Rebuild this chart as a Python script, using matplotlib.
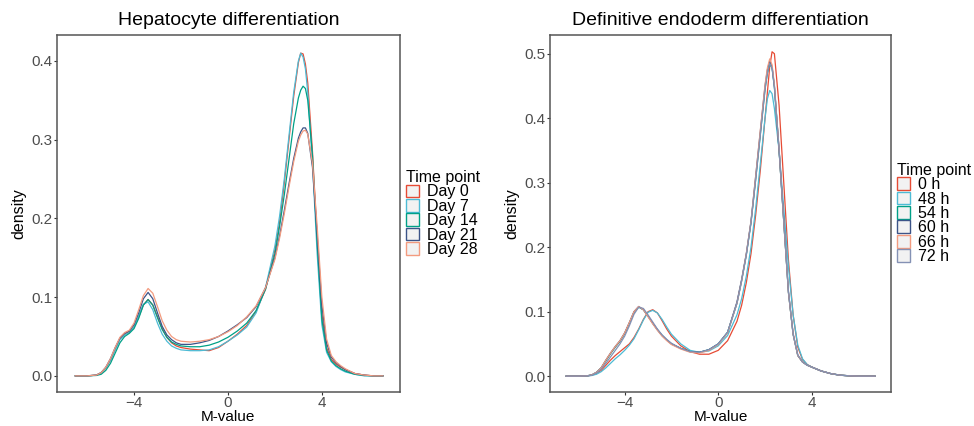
import numpy as np
import matplotlib.pyplot as plt
from matplotlib.patches import Patch

plt.rcParams['font.family'] = ['Liberation Sans', 'DejaVu Sans']

# ---- left panel: hepatocyte differentiation ----
x_hep = [-6.5, -6.0, -5.6, -5.4, -5.2, -5.0, -4.8, -4.6, -4.4, -4.2, -4.0, -3.8, -3.6,
         -3.4, -3.2, -3.0, -2.8, -2.6, -2.4, -2.2, -2.0, -1.6, -1.2, -0.8, -0.4, 0.0,
         0.4, 0.8, 1.2, 1.6, 2.0, 2.2, 2.4, 2.6, 2.8, 3.0, 3.1, 3.2, 3.3, 3.4, 3.6, 3.8,
         4.0, 4.2, 4.4, 4.6, 4.8, 5.0, 5.4, 5.8, 6.2, 6.6]
day0 = [0, 0, 0.001, 0.004, 0.01, 0.02, 0.034, 0.047, 0.053, 0.056, 0.062, 0.075, 0.09,
        0.097, 0.09, 0.075, 0.06, 0.049, 0.042, 0.038, 0.036, 0.034, 0.033, 0.032, 0.036, 0.044,
        0.053, 0.064, 0.082, 0.11, 0.16, 0.195, 0.245, 0.3, 0.355, 0.398, 0.41, 0.409, 0.396, 0.372, 0.285, 0.175,
        0.078, 0.036, 0.021, 0.015, 0.011, 0.008, 0.003, 0.001, 0, 0]
day7 = [0, 0, 0.001, 0.004, 0.01, 0.02, 0.033, 0.046, 0.052, 0.055, 0.062, 0.076, 0.091,
        0.094, 0.084, 0.067, 0.053, 0.044, 0.038, 0.035, 0.033, 0.032, 0.032, 0.033, 0.037, 0.044,
        0.052, 0.062, 0.08, 0.112, 0.165, 0.203, 0.25, 0.305, 0.36, 0.4, 0.41, 0.405, 0.39, 0.36, 0.27, 0.155,
        0.065, 0.03, 0.018, 0.012, 0.008, 0.005, 0.002, 0, 0, 0]
day14 = [0, 0, 0.0005, 0.002, 0.007, 0.016, 0.029, 0.042, 0.05, 0.054, 0.06, 0.073, 0.09,
         0.097, 0.09, 0.074, 0.059, 0.049, 0.043, 0.04, 0.038, 0.037, 0.037, 0.039, 0.043, 0.049,
         0.057, 0.067, 0.083, 0.11, 0.155, 0.19, 0.23, 0.275, 0.32, 0.353, 0.363, 0.368, 0.365, 0.35, 0.28, 0.168,
         0.072, 0.033, 0.019, 0.013, 0.009, 0.006, 0.002, 0.0005, 0, 0]
day21 = [0, 0, 0.001, 0.004, 0.011, 0.022, 0.036, 0.048, 0.054, 0.057, 0.065, 0.08, 0.098,
         0.106, 0.098, 0.08, 0.063, 0.052, 0.046, 0.042, 0.04, 0.04, 0.042, 0.045, 0.05, 0.057,
         0.065, 0.074, 0.088, 0.112, 0.15, 0.178, 0.21, 0.244, 0.276, 0.302, 0.31, 0.315, 0.315, 0.308, 0.265, 0.18,
         0.09, 0.042, 0.024, 0.017, 0.012, 0.008, 0.003, 0.001, 0, 0]
day28 = [0, 0, 0.001, 0.004, 0.011, 0.022, 0.036, 0.049, 0.055, 0.058, 0.067, 0.084, 0.102,
         0.111, 0.105, 0.088, 0.07, 0.058, 0.05, 0.046, 0.044, 0.043, 0.044, 0.046, 0.05, 0.056,
         0.064, 0.075, 0.089, 0.112, 0.148, 0.175, 0.206, 0.24, 0.272, 0.298, 0.306, 0.311, 0.312, 0.307, 0.27, 0.19,
         0.1, 0.047, 0.026, 0.018, 0.013, 0.009, 0.003, 0.001, 0, 0]
hep_labels = ['Day 0', 'Day 7', 'Day 14', 'Day 21', 'Day 28']

# ---- right panel: definitive endoderm differentiation ----
x_de = [-6.5, -6.0, -5.6, -5.4, -5.2, -5.0, -4.8, -4.6, -4.4, -4.2, -4.0, -3.8, -3.6,
        -3.4, -3.2, -3.0, -2.8, -2.6, -2.4, -2.2, -2.0, -1.6, -1.2, -0.8, -0.4, 0.0,
        0.4, 0.8, 1.0, 1.2, 1.4, 1.6, 1.8, 2.0, 2.1, 2.2, 2.3, 2.4, 2.6, 2.8, 3.0, 3.2,
        3.4, 3.6, 3.8, 4.0, 4.4, 4.8, 5.2, 5.6, 6.0, 6.7]
h0 = [0, 0, 0.0003, 0.0015, 0.004, 0.009, 0.017, 0.025, 0.032, 0.038, 0.044, 0.05, 0.06,
      0.073, 0.088, 0.1, 0.103, 0.098, 0.086, 0.073, 0.062, 0.047, 0.038, 0.034, 0.034, 0.04,
      0.055, 0.085, 0.11, 0.145, 0.19, 0.25, 0.32, 0.4, 0.44, 0.48, 0.503, 0.5, 0.42, 0.3, 0.18, 0.095,
      0.045, 0.026, 0.018, 0.014, 0.008, 0.004, 0.0015, 0.0005, 0, 0]
h48 = [0, 0, 0.0003, 0.001, 0.003, 0.007, 0.013, 0.02, 0.027, 0.033, 0.04, 0.048, 0.058,
       0.072, 0.087, 0.099, 0.102, 0.098, 0.088, 0.076, 0.065, 0.05, 0.04, 0.037, 0.039, 0.047,
       0.063, 0.095, 0.12, 0.155, 0.2, 0.26, 0.33, 0.4, 0.43, 0.443, 0.438, 0.415, 0.35, 0.26, 0.17, 0.095,
       0.048, 0.027, 0.018, 0.014, 0.008, 0.004, 0.0015, 0.0005, 0, 0]
h54 = [0, 0, 0.0005, 0.002, 0.006, 0.013, 0.024, 0.035, 0.045, 0.054, 0.066, 0.082, 0.099,
       0.107, 0.103, 0.093, 0.082, 0.072, 0.063, 0.056, 0.05, 0.043, 0.038, 0.037, 0.041, 0.05,
       0.068, 0.113, 0.148, 0.188, 0.238, 0.305, 0.375, 0.445, 0.47, 0.484, 0.478, 0.448, 0.35, 0.24, 0.13, 0.065,
       0.032, 0.022, 0.017, 0.014, 0.008, 0.004, 0.0015, 0.0005, 0, 0]
h60 = [0, 0, 0.0005, 0.002, 0.006, 0.013, 0.025, 0.036, 0.046, 0.055, 0.067, 0.083, 0.1,
       0.108, 0.103, 0.093, 0.082, 0.072, 0.063, 0.056, 0.05, 0.043, 0.038, 0.037, 0.041, 0.05,
       0.068, 0.115, 0.15, 0.19, 0.24, 0.31, 0.38, 0.45, 0.475, 0.488, 0.48, 0.45, 0.35, 0.24, 0.13, 0.065,
       0.032, 0.022, 0.017, 0.014, 0.008, 0.004, 0.0015, 0.0005, 0, 0]
h66 = [0, 0, 0.0005, 0.002, 0.006, 0.013, 0.025, 0.036, 0.046, 0.055, 0.067, 0.083, 0.1,
       0.108, 0.103, 0.092, 0.081, 0.071, 0.062, 0.055, 0.049, 0.042, 0.037, 0.036, 0.04, 0.049,
       0.067, 0.113, 0.148, 0.19, 0.24, 0.31, 0.382, 0.452, 0.478, 0.492, 0.483, 0.452, 0.352, 0.24, 0.13, 0.065,
       0.032, 0.022, 0.017, 0.014, 0.008, 0.004, 0.0015, 0.0005, 0, 0]
h72 = [0, 0, 0.0004, 0.0015, 0.005, 0.011, 0.02, 0.03, 0.04, 0.05, 0.062, 0.078, 0.096,
       0.107, 0.105, 0.095, 0.084, 0.073, 0.064, 0.057, 0.051, 0.043, 0.038, 0.037, 0.041, 0.05,
       0.068, 0.113, 0.148, 0.188, 0.238, 0.305, 0.375, 0.445, 0.47, 0.485, 0.478, 0.448, 0.352, 0.242, 0.132, 0.066,
       0.033, 0.022, 0.017, 0.014, 0.008, 0.004, 0.0015, 0.0005, 0, 0]
de_labels = ['0 h', '48 h', '54 h', '60 h', '66 h', '72 h']

npg = ['#E64B35', '#4DBBD5', '#00A087', '#3C5488', '#F39B7F', '#8491B4']


def style_panel(ax, title, yticks, xlim, ylim):
    ax.set_title(title, fontsize=14, color='black', pad=7)
    ax.set_xlim(*xlim)
    ax.set_ylim(*ylim)
    ax.set_xticks([-4, 0, 4])
    ax.set_yticks(yticks)
    ax.set_yticklabels(['%.1f' % t for t in yticks])
    ax.tick_params(labelsize=11, labelcolor='#4D4D4D', color='#333333',
                   length=2, width=0.8, pad=1.5)
    ax.tick_params(axis='x', pad=1)
    for sp in ax.spines.values():
        sp.set_color('#555555')
        sp.set_linewidth(1.1)
    ax.set_xlabel('M-value', fontsize=11, labelpad=0)
    ax.set_ylabel('density', fontsize=11.5, labelpad=3)


def add_legend(ax, labels, colors):
    handles = [Patch(facecolor='#F2F2F2', edgecolor=c, linewidth=1.0, label=l)
               for l, c in zip(labels, colors)]
    leg = ax.legend(handles=handles, title='Time point', loc='center left',
                    bbox_to_anchor=(1.017, 0.50), frameon=False, fontsize=11.5,
                    title_fontsize=11.5, handlelength=0.85, handleheight=0.85,
                    labelspacing=-0.04, handletextpad=0.5, borderpad=0,
                    borderaxespad=0, alignment='left')
    return leg


fig = plt.figure(figsize=(9.74, 4.26), dpi=100)
ax1 = fig.add_axes([0.0585, 0.0798, 0.352, 0.838])
ax2 = fig.add_axes([0.5647, 0.0798, 0.350, 0.838])

for y, c in zip([day0, day7, day14, day21, day28], npg):
    ax1.plot(x_hep, y, color=c, lw=0.9)
style_panel(ax1, 'Hepatocyte differentiation', [0, 0.1, 0.2, 0.3, 0.4],
            (-7.28, 7.32), (-0.0205, 0.433))
add_legend(ax1, hep_labels, npg[:5])

for y, c in zip([h0, h48, h54, h60, h66, h72], npg):
    ax2.plot(x_de, y, color=c, lw=0.9)
style_panel(ax2, 'Definitive endoderm differentiation', [0, 0.1, 0.2, 0.3, 0.4, 0.5],
            (-7.19, 7.38), (-0.0246, 0.529))
add_legend(ax2, de_labels, npg)

plt.savefig('out.png', dpi=100)
